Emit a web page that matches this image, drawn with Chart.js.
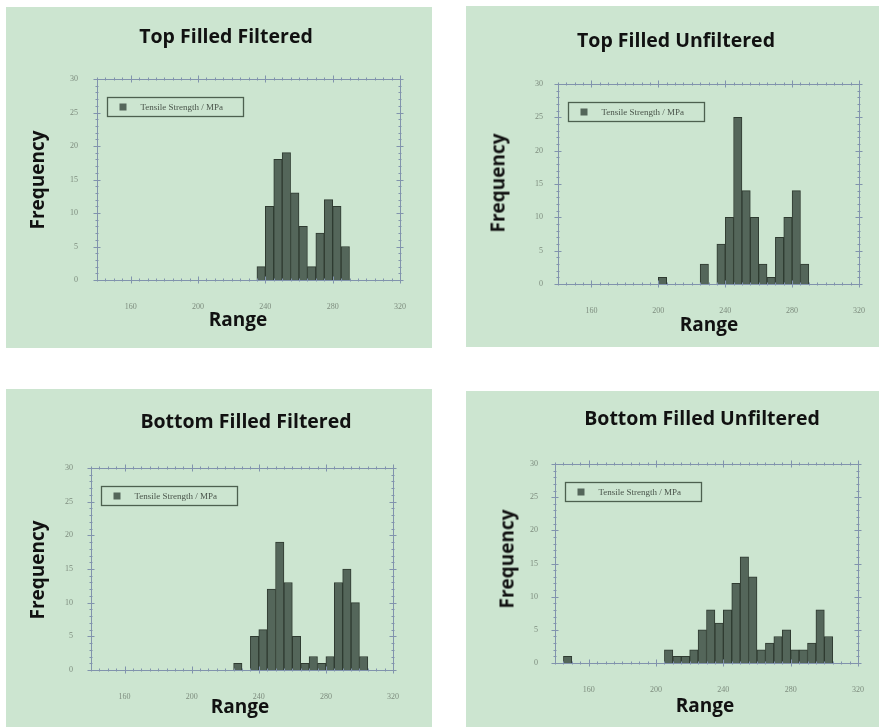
<!DOCTYPE html>
<html><head><meta charset="utf-8">
<script src="https://cdn.jsdelivr.net/npm/chart.js@4.4.1/dist/chart.umd.min.js"></script>
<style>
html,body{margin:0;padding:0;background:#fff}
body{width:879px;height:727px;position:relative;overflow:hidden;font-family:'Open Sans',sans-serif}
.panel{position:absolute;background:#cce5d0}
.panel canvas{position:absolute;left:0;top:0}
.t{position:absolute;font-weight:bold;font-size:19px;line-height:1;white-space:nowrap;transform:translate(-50%,-50%);color:#111}
.tt{font-size:19.5px}
.fr{transform:translate(-50%,-50%) rotate(-90deg)}
</style>
</head><body>
<div class="panel" style="left:6px;top:7px;width:426px;height:341px"><canvas id="c1"></canvas></div>
<div class="panel" style="left:466px;top:6px;width:413px;height:341px"><canvas id="c2"></canvas></div>
<div class="panel" style="left:6px;top:389px;width:426px;height:338px"><canvas id="c3"></canvas></div>
<div class="panel" style="left:466px;top:391px;width:413px;height:336px"><canvas id="c4"></canvas></div>

<div class="t tt" style="left:226px;top:36px">Top Filled Filtered</div>
<div class="t tt" style="left:676px;top:40px">Top Filled Unfiltered</div>
<div class="t tt" style="left:246px;top:421px">Bottom Filled Filtered</div>
<div class="t tt" style="left:702px;top:418px">Bottom Filled Unfiltered</div>

<div class="t fr" style="left:37px;top:180px">Frequency</div>
<div class="t fr" style="left:498px;top:183px">Frequency</div>
<div class="t fr" style="left:37px;top:570px">Frequency</div>
<div class="t fr" style="left:507px;top:559px">Frequency</div>

<div class="t" style="left:238px;top:319px">Range</div>
<div class="t" style="left:709px;top:324px">Range</div>
<div class="t" style="left:240px;top:706px">Range</div>
<div class="t" style="left:705px;top:705px">Range</div>

<script>
// ---- data ----
const seriesLabel = 'Tensile Strength / MPa';
const binWidth = 5;
const xTickValues = [160, 200, 240, 280, 320];
const yTickValues = [0, 5, 10, 15, 20, 25, 30];

const topFilteredBins = [235, 240, 245, 250, 255, 260, 265, 270, 275, 280, 285];
const topFilteredFreq = [2, 11, 18, 19, 13, 8, 2, 7, 12, 11, 5];

const topUnfilteredBins = [200, 225, 235, 240, 245, 250, 255, 260, 265, 270, 275, 280, 285];
const topUnfilteredFreq = [1, 3, 6, 10, 25, 14, 10, 3, 1, 7, 10, 14, 3];

const bottomFilteredBins = [225, 235, 240, 245, 250, 255, 260, 265, 270, 275, 280, 285, 290, 295, 300];
const bottomFilteredFreq = [1, 5, 6, 12, 19, 13, 5, 1, 2, 1, 2, 13, 15, 10, 2];

const bottomUnfilteredBins = [145, 205, 210, 215, 220, 225, 230, 235, 240, 245, 250, 255, 260, 265, 270, 275, 280, 285, 290, 295, 300];
const bottomUnfilteredFreq = [1, 2, 1, 1, 2, 5, 8, 6, 8, 12, 16, 13, 2, 3, 4, 5, 2, 2, 3, 8, 4];

// ---- styling ----
const frameColor = '#8193ad';
const barFill = '#54665a';
const barEdge = '#2f3b31';
const tickFont = {family: 'Liberation Serif', size: 8};
const tickColor = '#7d8c7e';

const framePlugin = {
  id: 'frame',
  afterDatasetsDraw(chart) {
    const {ctx, chartArea: a, scales: {x, y}} = chart;
    ctx.save();
    ctx.strokeStyle = frameColor;
    ctx.lineWidth = 1;
    ctx.strokeRect(Math.round(a.left) + 0.5, Math.round(a.top) + 0.5, Math.round(a.right - a.left), Math.round(a.bottom - a.top));
    ctx.beginPath();
    for (let v = x.min; v <= x.max + 1e-6; v += binWidth) {
      const px = Math.round(x.getPixelForValue(v)) + 0.5;
      const len = xTickValues.includes(v) ? 3.5 : 1.5;
      ctx.moveTo(px, a.bottom - len); ctx.lineTo(px, a.bottom + len);
      ctx.moveTo(px, a.top - len); ctx.lineTo(px, a.top + len);
    }
    for (let v = y.min; v <= y.max + 1e-6; v += 1) {
      const py = Math.round(y.getPixelForValue(v)) + 0.5;
      const len = yTickValues.includes(v) ? 3.5 : 1.5;
      ctx.moveTo(a.left - len, py); ctx.lineTo(a.left + len, py);
      ctx.moveTo(a.right - len, py); ctx.lineTo(a.right + len, py);
    }
    ctx.stroke();
    // legend box
    const lx = Math.round(a.left) + 10.5, ly = Math.round(a.top) + 18.5, lw = 136, lh = 19;
    ctx.strokeStyle = '#4d604f';
    ctx.lineWidth = 1.3;
    ctx.strokeRect(lx, ly, lw, lh);
    ctx.fillStyle = barFill;
    ctx.fillRect(lx + 12, ly + lh / 2 - 3.5, 7, 7);
    ctx.fillStyle = '#4a554b';
    ctx.font = '9px "Liberation Serif"';
    ctx.textBaseline = 'middle';
    ctx.fillText(chart.data.datasets[0].label, lx + 33, ly + lh / 2 + 0.5);
    ctx.restore();
  }
};

function makeChart(id, w, h, bins, freq, pad, yW, xH, yPad) {
  const cv = document.getElementById(id);
  cv.width = w; cv.height = h;
  cv.style.width = w + 'px'; cv.style.height = h + 'px';
  return new Chart(cv, {
    type: 'bar',
    data: {
      datasets: [{
        label: seriesLabel,
        data: bins.map((b, i) => ({x: b + binWidth / 2, y: freq[i]})),
        backgroundColor: barFill,
        borderColor: barEdge,
        borderWidth: 1,
        barPercentage: 1,
        categoryPercentage: 1
      }]
    },
    plugins: [framePlugin],
    options: {
      responsive: false,
      animation: false,
      devicePixelRatio: 1,
      layout: {padding: pad},
      plugins: {legend: {display: false}, title: {display: false}, tooltip: {enabled: false}},
      scales: {
        x: {
          type: 'linear', min: 140, max: 320, offset: false,
          grid: {display: false, offset: false}, border: {display: false},
          afterBuildTicks: s => { s.ticks = xTickValues.map(v => ({value: v})); },
          afterFit: s => { s.height = xH; },
          ticks: {font: tickFont, color: tickColor, padding: 14, maxRotation: 0, autoSkip: false}
        },
        y: {
          type: 'linear', min: 0, max: 30,
          grid: {display: false}, border: {display: false},
          afterBuildTicks: s => { s.ticks = yTickValues.map(v => ({value: v})); },
          afterFit: s => { s.width = yW; },
          ticks: {font: tickFont, color: tickColor, padding: yPad}
        }
      }
    }
  });
}

makeChart('c1', 426, 341, topFilteredBins, topFilteredFreq, {left: 0, top: 72, right: 32, bottom: 0}, 91, 68, 11);
makeChart('c2', 413, 341, topUnfilteredBins, topUnfilteredFreq, {left: 0, top: 78, right: 17, bottom: 0}, 92, 63, 7);
makeChart('c3', 426, 338, bottomFilteredBins, bottomFilteredFreq, {left: 0, top: 79, right: 39, bottom: 0}, 85, 57, 10);
makeChart('c4', 413, 336, bottomUnfilteredBins, bottomUnfilteredFreq, {left: 0, top: 73, right: 21, bottom: 0}, 89, 64, 9);
</script>
</body></html>
